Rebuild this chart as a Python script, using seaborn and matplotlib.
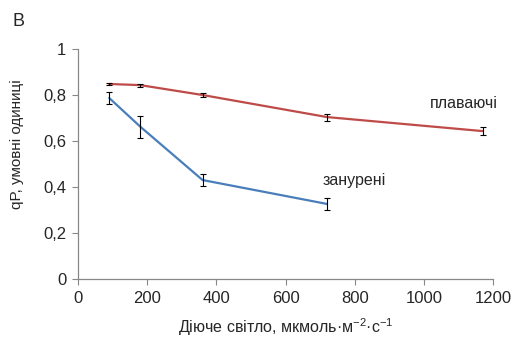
import matplotlib
matplotlib.use('Agg')
import matplotlib.pyplot as plt
from matplotlib.ticker import FuncFormatter
import seaborn as sns
import pandas as pd

# Data
light_float = [90, 180, 360, 720, 1170]
qp_float = [0.848, 0.843, 0.800, 0.704, 0.643]
err_float = [0.006, 0.006, 0.008, 0.015, 0.017]

light_sub = [90, 180, 360, 720]
qp_sub = [0.787, 0.662, 0.430, 0.326]
err_sub = [0.024, 0.048, 0.028, 0.026]

labels = ['плаваючі', 'занурені']
colors = {'плаваючі': '#BE4B48', 'занурені': '#4A7EBB'}

df = pd.concat([
    pd.DataFrame({'light': light_float, 'qp': qp_float, 'err': err_float, 'group': labels[0]}),
    pd.DataFrame({'light': light_sub, 'qp': qp_sub, 'err': err_sub, 'group': labels[1]}),
])

sns.set_style('ticks')
plt.rcParams['font.family'] = ['Liberation Sans', 'DejaVu Sans']
plt.rcParams['mathtext.fontset'] = 'custom'
plt.rcParams['mathtext.rm'] = 'Liberation Sans'

fig = plt.figure(figsize=(5.14, 3.43), dpi=100)
ax = fig.add_axes([0.152, 0.187, 0.807, 0.67])

sns.lineplot(data=df, x='light', y='qp', hue='group', palette=colors,
             linewidth=1.6, legend=False, ax=ax, errorbar=None, sort=True)
for g, sub in df.groupby('group'):
    ax.errorbar(sub['light'], sub['qp'], yerr=sub['err'], fmt='none',
                ecolor='black', elinewidth=0.8, capsize=2.5, capthick=0.8, zorder=3)

ax.set_xlim(0, 1200)
ax.set_ylim(0, 1)
ax.set_xticks(range(0, 1201, 200))
ax.set_yticks([0, 0.2, 0.4, 0.6, 0.8, 1.0])
ax.yaxis.set_major_formatter(FuncFormatter(lambda v, p: f'{v:g}'.replace('.', ',')))
ax.tick_params(labelsize=12, length=4.5, width=0.8, color='#888888', pad=4)
sns.despine(ax=ax)
for s in ['left', 'bottom']:
    ax.spines[s].set_color('#888888')
    ax.spines[s].set_linewidth(0.9)

ax.set_xlabel(r'Діюче світло, мкмоль·м$\mathregular{^{-2}}$·с$\mathregular{^{-1}}$',
              fontsize=11.5, labelpad=8)
ax.set_ylabel('qP, умовні одиниці', fontsize=11)
ax.yaxis.set_label_coords(-0.13, 0.585)

ax.text(1116, 0.765, labels[0], fontsize=11.5, ha='center', va='center')
ax.text(798, 0.426, labels[1], fontsize=11.5, ha='center', va='center')
fig.text(0.025, 0.937, 'В', fontsize=13, ha='left', va='center')

fig.savefig('out.png', dpi=100)
